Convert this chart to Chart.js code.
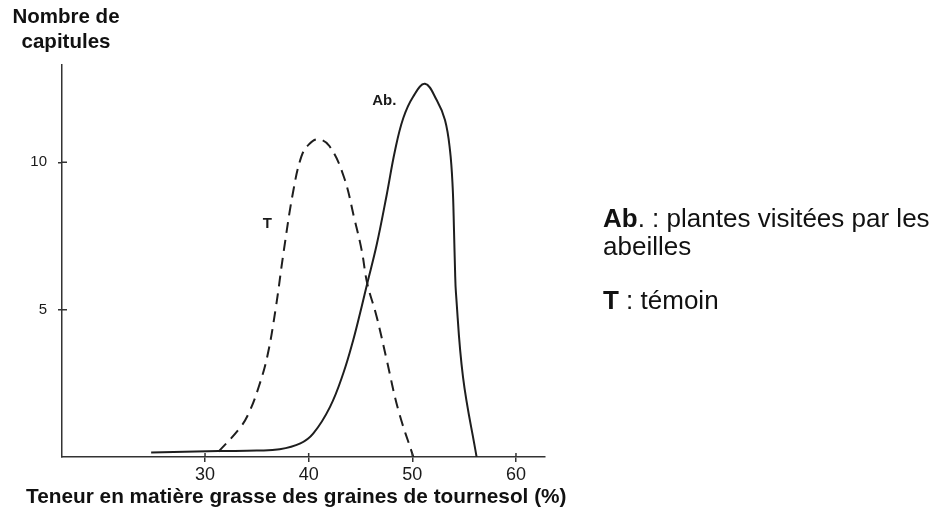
<!DOCTYPE html>
<html>
<head>
<meta charset="utf-8">
<script src="https://cdn.jsdelivr.net/npm/chart.js@4"></script>
<style>
  body { margin: 0; background: #fff; }
  #wrap { position: relative; width: 932px; height: 517px; font-family: "Liberation Sans", Arial, sans-serif; color: #111; }
  #c { position: absolute; left: 0; top: 0; }
  .ytitle { position: absolute; left: 4px; top: 3px; width: 124px; text-align: center; font-weight: bold; font-size: 20.5px; line-height: 25px; }
  .xtitle { position: absolute; left: 26px; top: 484px; font-weight: bold; font-size: 20.8px; white-space: nowrap; }
  .legend { position: absolute; left: 603px; top: 204px; font-size: 26px; line-height: 28px; }
  .legend p { margin: 0 0 26px 0; }
</style>
</head>
<body>
<div id="wrap">
  <canvas id="c" width="932" height="517"></canvas>
  <div class="ytitle">Nombre de<br>capitules</div>
  <div class="xtitle">Teneur en matière grasse des graines de tournesol (%)</div>
  <div class="legend">
    <p><b>Ab</b>. : plantes visitées par les<br>abeilles</p>
    <p><b>T</b> : témoin</p>
  </div>
</div>
<script>
"use strict";

// x ticks and y ticks
let xTicks = [30, 40, 50, 60];
let yTicks = [5, 10];

// Ab. : plantes visitées par les abeilles (solid)
let abX = [24.8, 31.3, 35.0, 37.2, 39.2, 40.45, 42.06, 43.34, 44.3, 45.11, 45.65, 46.56, 47.53, 48.33, 49.13, 50.09, 51.22, 52.35, 53.15, 53.63, 53.89, 54.02, 54.12, 54.21, 54.89, 56.2];
let abY = [0.15, 0.2, 0.22, 0.26, 0.46, 0.8, 1.7, 2.84, 3.97, 5.1, 5.89, 7.2, 8.9, 10.4, 11.5, 12.23, 12.66, 12.11, 11.43, 10.42, 9.17, 7.7, 6.35, 5.56, 2.71, 0];

// T : témoin (dashed)
let tX = [31.3, 33.4, 34.3, 35.2, 36.0, 36.8, 37.6, 38.5, 39.3, 40.0, 40.9, 42.0, 43.4, 44.4, 45.11, 45.65, 46.56, 47.53, 48.65, 50.1];
let tY = [0.18, 1.0, 1.55, 2.4, 3.4, 5.0, 7.0, 9.0, 10.2, 10.6, 10.78, 10.55, 9.5, 8.1, 7.02, 5.89, 4.76, 3.29, 1.59, 0];

function toPoints(xs, ys) {
  let pts = [];
  for (let i = 0; i < xs.length; i++) {
    pts.push({ x: xs[i], y: ys[i] });
  }
  return pts;
}

let lineColor = "#1e1e1e";

// curve labels drawn at data positions
let curveLabels = {
  id: "curveLabels",
  afterDatasetsDraw(chart) {
    let ctx = chart.ctx;
    let xs = chart.scales.x;
    let ys = chart.scales.y;
    ctx.save();
    ctx.fillStyle = "#1a1a1a";
    ctx.textAlign = "center";
    ctx.textBaseline = "middle";
    ctx.font = "bold 15px 'Liberation Sans', Arial, sans-serif";
    ctx.fillText("Ab.", xs.getPixelForValue(47.3), ys.getPixelForValue(12.08));
    ctx.fillText("T", xs.getPixelForValue(36.0), ys.getPixelForValue(7.9));
    ctx.restore();
  }
};

// small inward half of the tick marks so they cross the axes
let crossTicks = {
  id: "crossTicks",
  afterDraw(chart) {
    let ctx = chart.ctx;
    let xs = chart.scales.x;
    let ys = chart.scales.y;
    let area = chart.chartArea;
    ctx.save();
    ctx.strokeStyle = "#333";
    ctx.lineWidth = 1.5;
    ctx.beginPath();
    for (let v of xTicks) {
      let px = xs.getPixelForValue(v);
      ctx.moveTo(px, area.bottom);
      ctx.lineTo(px, area.bottom - 4);
    }
    for (let v of yTicks) {
      let py = ys.getPixelForValue(v);
      ctx.moveTo(area.left, py);
      ctx.lineTo(area.left + 5, py);
    }
    ctx.stroke();
    ctx.restore();
  }
};

let ctx = document.getElementById("c");
let chart = new Chart(ctx, {
  type: "line",
  data: {
    datasets: [
      {
        label: "Ab.",
        data: toPoints(abX, abY),
        borderColor: lineColor,
        borderWidth: 2,
        pointRadius: 0,
        tension: 0.4,
        fill: false,
      },
      {
        label: "T",
        data: toPoints(tX, tY),
        borderColor: lineColor,
        borderWidth: 2,
        borderDash: [11, 7],
        pointRadius: 0,
        tension: 0.4,
        fill: false,
      },
    ],
  },
  options: {
    responsive: false,
    animation: false,
    layout: { padding: { top: 65, right: 387, bottom: 0, left: 0 } },
    plugins: { legend: { display: false }, tooltip: { enabled: false } },
    scales: {
      x: {
        type: "linear",
        min: 16.2,
        max: 62.8,
        afterBuildTicks(scale) {
          scale.ticks = xTicks.map(v => ({ value: v }));
        },
        afterFit(scale) {
          scale.height = 60;
        },
        grid: { display: true, drawOnChartArea: false, drawTicks: true, tickLength: 5, color: "#333", lineWidth: 1.5 },
        border: { display: true, color: "#333", width: 1.5 },
        ticks: { color: "#1a1a1a", font: { family: "'Liberation Sans', Arial, sans-serif", size: 18 }, padding: 2, maxRotation: 0 },
      },
      y: {
        type: "linear",
        min: 0,
        max: 13.3,
        afterBuildTicks(scale) {
          scale.ticks = yTicks.map(v => ({ value: v }));
        },
        afterFit(scale) {
          scale.width = 62;
        },
        grid: { display: true, drawOnChartArea: false, drawTicks: true, tickLength: 4, color: "#333", lineWidth: 1.5 },
        border: { display: true, color: "#333", width: 1.5 },
        ticks: { color: "#1a1a1a", font: { family: "'Liberation Sans', Arial, sans-serif", size: 15 }, padding: 11 },
      },
    },
  },
  plugins: [curveLabels, crossTicks],
});
</script>
</body>
</html>
